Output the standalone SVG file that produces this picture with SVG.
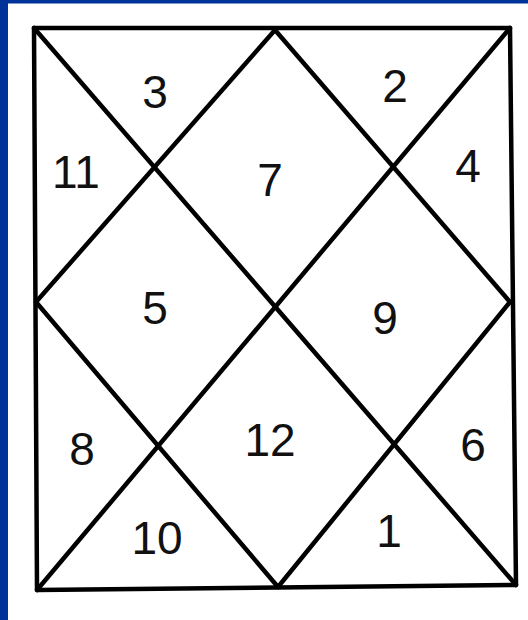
<svg xmlns="http://www.w3.org/2000/svg" width="528" height="620" viewBox="0 0 528 620">
  <style>
    .ln { stroke: #000; stroke-width: 4.5; fill: none; stroke-linecap: round; stroke-linejoin: round; }
    .lb { font-family: "Liberation Sans", Arial, sans-serif; font-size: 46px; fill: #111; text-anchor: middle; }
  </style>
  <rect x="0" y="0" width="528" height="620" fill="#ffffff"/>
  <rect x="0" y="0" width="8" height="620" fill="#003399"/>
  <rect x="0" y="0" width="528" height="3.5" fill="#003399"/>
  <g id="connectors">
    <polygon class="ln" points="34,28 510,28 516,585 37,590"/>
    <line class="ln" x1="34" y1="28" x2="516" y2="585"/>
    <line class="ln" x1="510" y1="28" x2="37" y2="590"/>
    <polygon class="ln" points="275,30 510,302 278,587 36,302"/>
  </g>
  <g id="house-3"><text class="lb" x="155" y="108">3</text></g>
  <g id="house-2"><text class="lb" x="395" y="102">2</text></g>
  <g id="house-11"><text class="lb" x="76" y="188">11</text></g>
  <g id="house-7"><text class="lb" x="270" y="196">7</text></g>
  <g id="house-4"><text class="lb" x="468" y="182">4</text></g>
  <g id="house-5"><text class="lb" x="155" y="324">5</text></g>
  <g id="house-9"><text class="lb" x="385" y="334">9</text></g>
  <g id="house-8"><text class="lb" x="82" y="465">8</text></g>
  <g id="house-12"><text class="lb" x="270" y="456">12</text></g>
  <g id="house-6"><text class="lb" x="473" y="461">6</text></g>
  <g id="house-10"><text class="lb" x="157" y="554">10</text></g>
  <g id="house-1"><text class="lb" x="389" y="547">1</text></g>
</svg>
